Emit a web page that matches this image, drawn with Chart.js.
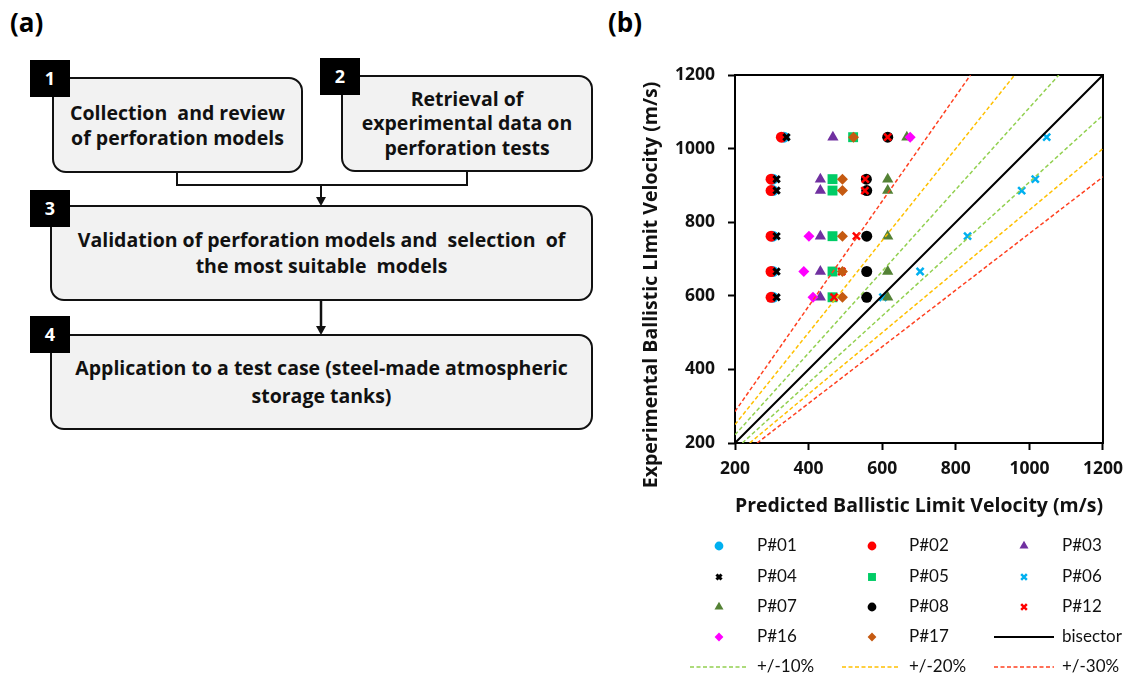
<!DOCTYPE html>
<html>
<head>
<meta charset="utf-8">
<title>Perforation models</title>
<script src="https://cdn.jsdelivr.net/npm/chart.js@4/dist/chart.umd.min.js"></script>
<style>
  html, body { margin: 0; padding: 0; background: #fff; }
  #fig { position: relative; width: 1132px; height: 677px; overflow: hidden; font-family: "Open Sans", Lato, sans-serif; }
  .panel { position: absolute; top: 4px; font-weight: bold; font-size: 26px; color: #000; }
  .box {
    position: absolute; box-sizing: border-box; border: 2px solid #111; border-radius: 14px;
    background: #f2f2f2; display: flex; align-items: center; justify-content: center;
    text-align: center; font-weight: bold; font-size: 19.5px; line-height: 25px; color: #111;
  }
  .badge {
    position: absolute; width: 40px; height: 37px; background: #000; color: #fff;
    font-weight: bold; font-size: 18px; line-height: 37px; text-align: center;
  }
  #links { position: absolute; left: 0; top: 0; }
  #chartBox { position: absolute; left: 600px; top: 0; width: 532px; height: 677px; }
</style>
</head>
<body>
<div id="fig">
  <div class="panel" style="left:10px">(a)</div>
  <div class="panel" style="left:608px">(b)</div>

  <svg id="links" width="600" height="440">
    <polyline points="177,172 177,185 467,185 467,171" fill="none" stroke="#111" stroke-width="2"/>
    <line x1="321" y1="185" x2="321" y2="198" stroke="#111" stroke-width="2"/>
    <polygon points="316,197 326,197 321,206" fill="#111"/>
    <line x1="321" y1="300" x2="321" y2="327" stroke="#111" stroke-width="2.5"/>
    <polygon points="316,326 326,326 321,335" fill="#111"/>
  </svg>

  <div class="box" style="left:52px;top:77px;width:251px;height:96px">Collection&nbsp; and review<br>of perforation models</div>
  <div class="box" style="left:341px;top:75px;width:252px;height:97px;line-height:24.5px">Retrieval of<br>experimental data on<br>perforation tests</div>
  <div class="box" style="left:50px;top:205px;width:543px;height:96px;line-height:26px">Validation of perforation models and&nbsp; selection&nbsp; of<br>the most suitable&nbsp; models</div>
  <div class="box" style="left:50px;top:334px;width:543px;height:96px;line-height:28px">Application to a test case (steel-made atmospheric<br>storage tanks)</div>

  <div class="badge" style="left:30px;top:60px">1</div>
  <div class="badge" style="left:320px;top:58px">2</div>
  <div class="badge" style="left:30px;top:190px">3</div>
  <div class="badge" style="left:30px;top:316px">4</div>

  <div id="chartBox"><canvas id="chart" width="532" height="677"></canvas></div>
</div>

<script>
// experimental ballistic limit velocity of each test row (m/s)
const expVel = [596, 666, 762, 886, 917, 1031];

// predicted ballistic limit velocity per model, one value per row (null = no point)
const p01 = [303, 303, 303, 303, 303, 333];
const p02 = [298, 298, 298, 298, 298, 326];
const p03 = [432, 432, 432, 432, 432, 466];
const p04 = [313, 313, 313, 313, 313, 340];
const p05 = [465, 465, 465, 465, 465, 521];
const p06 = [602, 703, 832, 979, 1016, 1047];
const p07 = [615, 615, 615, 615, 615, 667];
const p08 = [558, 558, 558, 558, 557, 615];
const p12 = [469, 490, 530, 553, 554, 615];
const p16 = [412, 387, 401, null, null, 676];
const p17 = [492, 492, 492, 492, 492, 522];

// reference lines, end points [predicted, experimental]
const bisector = [[200, 200], [1200, 1200]];
const plus10 = [[200, 222.2], [1080, 1200]];
const minus10 = [[220, 200], [1200, 1090.9]];
const plus20 = [[200, 250], [960, 1200]];
const minus20 = [[240, 200], [1200, 1000]];
const plus30 = [[200, 285.7], [840, 1200]];
const minus30 = [[260, 200], [1200, 923.1]];

const axisTicks = [200, 400, 600, 800, 1000, 1200];
const xTitle = 'Predicted Ballistic Limit Velocity (m/s)';
const yTitle = 'Experimental Ballistic LImit Velocity (m/s)';

function pts(pred) {
  const out = [];
  pred.forEach((v, i) => { if (v !== null) out.push({ x: v, y: expVel[i] }); });
  return out;
}
function seg(arr) {
  return arr.map(p => ({ x: p[0], y: p[1] }));
}

function marker(label, data, style, color, radius, bw) {
  const cross = style === 'crossRot';
  return {
    label: label,
    data: pts(data),
    pointStyle: style,
    pointRadius: radius,
    pointHoverRadius: radius,
    backgroundColor: color,
    borderColor: color,
    pointBorderWidth: cross ? bw : 0,
    borderWidth: cross ? bw : 0,
    showLine: false
  };
}
function refLine(label, data, color, dashed) {
  return {
    label: label,
    data: seg(data),
    showLine: true,
    pointRadius: 0,
    borderColor: color,
    backgroundColor: color,
    borderWidth: dashed ? 1.5 : 2,
    borderDash: dashed ? [4, 2.5] : [],
    fill: false
  };
}

const datasets = [
  marker('P#01', p01, 'circle', '#00B0F0', 5.5),
  marker('P#02', p02, 'circle', '#FF0000', 5.5),
  marker('P#03', p03, 'triangle', '#7030A0', 6.5),
  marker('P#04', p04, 'crossRot', '#000000', 4.5, 3),
  marker('P#05', p05, 'rect', '#00CC66', 7),
  marker('P#06', p06, 'crossRot', '#00B0F0', 5, 2.5),
  marker('P#07', p07, 'triangle', '#548235', 6.5),
  marker('P#08', p08, 'circle', '#000000', 5.5),
  marker('P#12', p12, 'crossRot', '#FF0000', 5, 2.5),
  marker('P#16', p16, 'rectRot', '#FF00FF', 5.5),
  marker('P#17', p17, 'rectRot', '#C55A11', 5.5),
  refLine('bisector', bisector, '#000000', false),
  refLine('+/-10%', plus10, '#92D050', true),
  refLine('+/-20%', plus20, '#FFC000', true),
  refLine('+/-30%', plus30, '#FF4020', true),
  refLine('-10%', minus10, '#92D050', true),
  refLine('-20%', minus20, '#FFC000', true),
  refLine('-30%', minus30, '#FF4020', true)
];
// later series are drawn on top, like the original
datasets.forEach((d, i) => { d.order = -i; });

// frame round the plot area
const frame = {
  id: 'frame',
  beforeDatasetsDraw(chart) {
    const a = chart.chartArea, ctx = chart.ctx;
    ctx.save();
    ctx.strokeStyle = '#000';
    ctx.lineWidth = 2;
    ctx.strokeRect(a.left, a.top, a.right - a.left, a.bottom - a.top);
    ctx.restore();
  }
};

// y title sits a bit lower than the plot centre in the original
const yTitlePlugin = {
  id: 'yTitle',
  afterDraw(chart) {
    const ctx = chart.ctx;
    ctx.save();
    ctx.translate(51, 285);
    ctx.rotate(-Math.PI / 2);
    ctx.font = 'bold 19.5px "Open Sans", sans-serif';
    ctx.fillStyle = '#111';
    ctx.textAlign = 'center';
    ctx.textBaseline = 'middle';
    ctx.fillText(yTitle, 0, 0);
    ctx.restore();
  }
};

// three column legend under the chart
const gridLegend = {
  id: 'gridLegend',
  afterDraw(chart) {
    const ctx = chart.ctx;
    const markX = [119, 272, 424];
    const textX = [157, 309, 462];
    const lineX = [[90, 148], [242, 300], [394, 454]];
    const rowY = [546, 577, 607, 637, 667];
    ctx.save();
    ctx.font = '17px Lato, "Open Sans", sans-serif';
    ctx.textBaseline = 'middle';
    ctx.textAlign = 'left';
    for (let i = 0; i < 15; i++) {
      const d = chart.data.datasets[i];
      const col = i % 3, row = Math.floor(i / 3);
      const y = rowY[row];
      if (d.showLine) {
        ctx.strokeStyle = d.borderColor;
        ctx.lineWidth = d.borderWidth;
        ctx.setLineDash(d.borderDash);
        ctx.beginPath();
        ctx.moveTo(lineX[col][0], y);
        ctx.lineTo(lineX[col][1], y);
        ctx.stroke();
        ctx.setLineDash([]);
      } else {
        ctx.fillStyle = d.backgroundColor;
        ctx.strokeStyle = d.borderColor;
        ctx.lineWidth = d.borderWidth;
        Chart.helpers.drawPoint(ctx, {
          pointStyle: d.pointStyle,
          radius: d.pointRadius * 0.8,
          rotation: 0,
          borderWidth: d.borderWidth
        }, markX[col], y);
      }
      ctx.fillStyle = '#111';
      ctx.fillText(d.label, textX[col], y);
    }
    ctx.restore();
  }
};

const tickFont = { family: '"Open Sans"', size: 17.5, weight: 'bold' };
const titleFont = { family: '"Open Sans"', size: 19.5, weight: 'bold' };

new Chart(document.getElementById('chart'), {
  type: 'scatter',
  data: { datasets: datasets },
  options: {
    responsive: false,
    devicePixelRatio: 1,
    animation: false,
    layout: { padding: { left: 0, right: 28, top: 75, bottom: 154 } },
    plugins: { legend: { display: false }, tooltip: { enabled: false } },
    scales: {
      x: {
        type: 'linear', min: 200, max: 1200,
        afterBuildTicks: s => { s.ticks = axisTicks.map(v => ({ value: v })); },
        afterFit: s => { s.height = 80; },
        ticks: { font: tickFont, color: '#111', padding: 9, callback: v => String(v) },
        grid: { drawOnChartArea: false, tickLength: 7, tickWidth: 2, tickColor: '#000', color: '#000' },
        border: { display: false },
        title: { display: true, text: xTitle, font: titleFont, color: '#111', padding: { top: 0, bottom: 5 } }
      },
      y: {
        type: 'linear', min: 200, max: 1200,
        afterBuildTicks: s => { s.ticks = axisTicks.map(v => ({ value: v })); },
        afterFit: s => { s.width = 135; },
        ticks: { font: tickFont, color: '#111', padding: 13, callback: v => String(v) },
        grid: { drawOnChartArea: false, tickLength: 7, tickWidth: 2, tickColor: '#000', color: '#000' },
        border: { display: false },
        title: { display: false }
      }
    }
  },
  plugins: [frame, yTitlePlugin, gridLegend]
});
</script>
</body>
</html>
